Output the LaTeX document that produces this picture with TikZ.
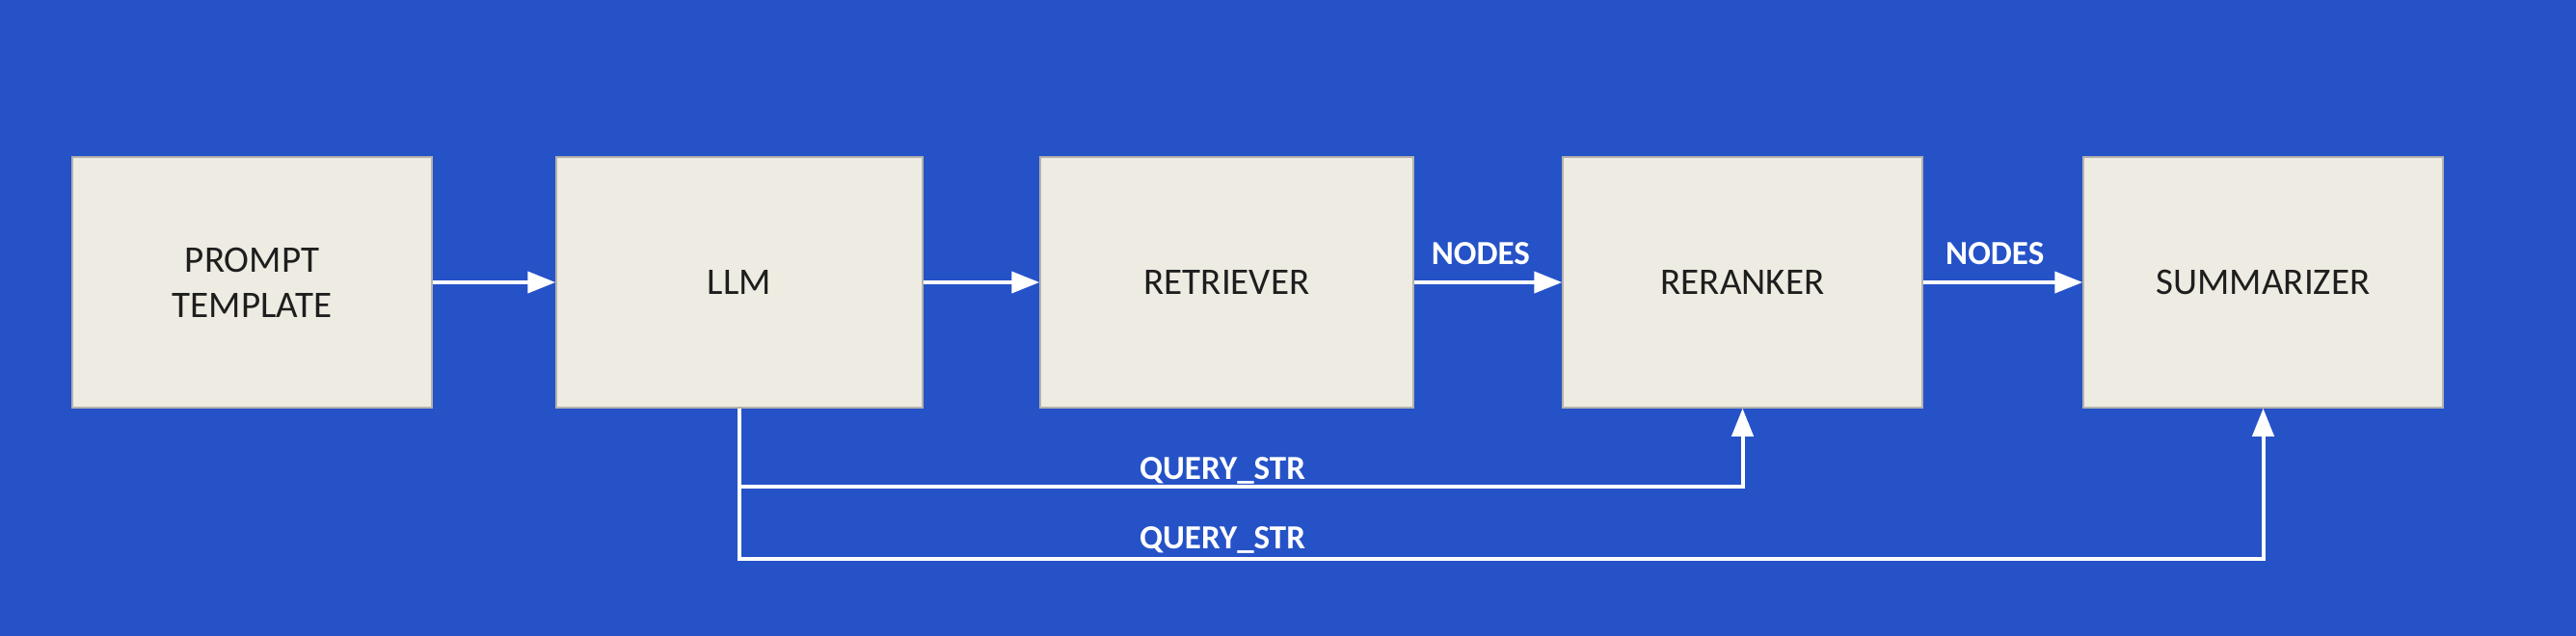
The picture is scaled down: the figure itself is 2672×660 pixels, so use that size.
\documentclass[tikz,border=0pt]{standalone}
\usepackage{fontspec}
\setmainfont{Carlito}
\usetikzlibrary{arrows.meta}
\definecolor{bgblue}{HTML}{2652C8}
\definecolor{boxfill}{HTML}{EEEBE2}
\definecolor{boxedge}{HTML}{B4B2AC}
\definecolor{boxtext}{HTML}{1E1E1E}
\tikzset{
  stagebox/.style={rectangle, fill=boxfill, draw=boxedge, line width=1.5pt,
    minimum height=260pt, inner sep=0pt, align=center, text=boxtext,
    font=\fontsize{39}{47}\selectfont},
  conn/.style={draw=white, line width=4pt},
  connarrow/.style={conn, -{Triangle[length=29pt,width=22pt]}},
  flowlabel/.style={text=white, inner sep=0pt, anchor=base,
    font=\fontsize{35}{40}\selectfont\bfseries}
}
\begin{document}
\begin{tikzpicture}[x=1pt,y=-1pt]
\fill[bgblue] (0,0) rectangle (2672,660);
\useasboundingbox (0,0) rectangle (2672,660);
\node[stagebox, minimum width=373pt] (prompt) at (261.5,293) {PROMPT\\TEMPLATE};
\node[stagebox, minimum width=380pt] (llm) at (767,293) {LLM};
\node[stagebox, minimum width=387pt] (retr) at (1272.5,293) {RETRIEVER};
\node[stagebox, minimum width=373pt] (rerank) at (1807.5,293) {RERANKER};
\node[stagebox, minimum width=373pt] (summ) at (2347.5,293) {SUMMARIZER};
\draw[connarrow] (prompt.east) -- (llm.west);
\draw[connarrow] (llm.east) -- (retr.west);
\draw[connarrow] (retr.east) -- node[flowlabel, pos=0.45, yshift=18pt] (nl1) {NODES} (rerank.west);
\draw[connarrow] (rerank.east) -- node[flowlabel, pos=0.45, yshift=18pt] (nl2) {NODES} (summ.west);
\coordinate (q1) at (767,505);
\coordinate (q2) at (767,580);
\draw[connarrow] (llm.south) -- (q1) -| (rerank.south);
\draw[connarrow] (llm.south) -- (q2) -| (summ.south);
\node[flowlabel] (ql1) at (1268,497) {QUERY\_STR};
\node[flowlabel] (ql2) at (1268,569) {QUERY\_STR};
\end{tikzpicture}
\end{document}
